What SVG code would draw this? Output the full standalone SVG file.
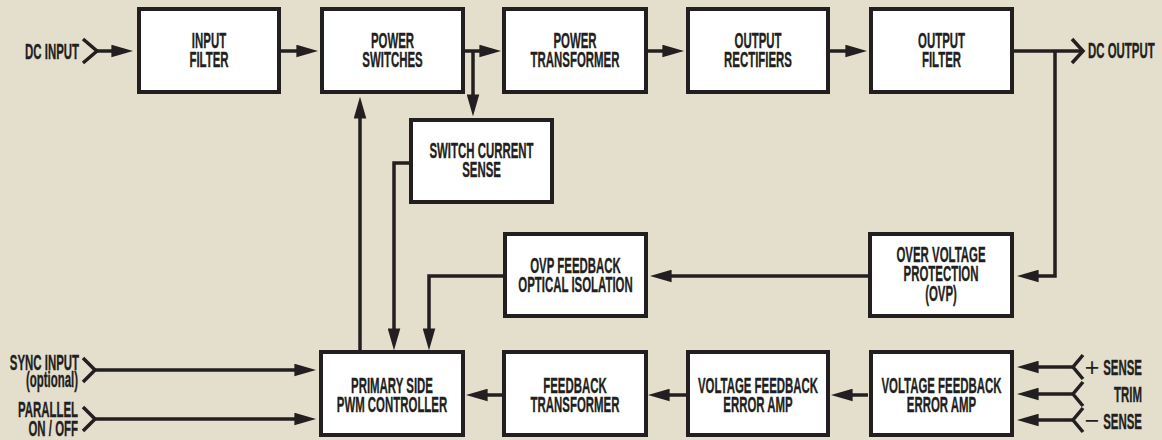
<svg xmlns="http://www.w3.org/2000/svg" width="1162" height="440" viewBox="0 0 1162 440">
<defs>
<style>
.box{fill:#fff;stroke:#231f20;stroke-width:4}
.ln{fill:none;stroke:#231f20;stroke-width:3.5;stroke-linejoin:miter}
.arr{marker-end:url(#ah)}
.t{font-family:"Liberation Sans",Arial,sans-serif;font-weight:bold;font-size:22px;fill:#231f20;stroke:#231f20;stroke-width:0.35;text-anchor:middle}
.e{text-anchor:end}
.pm{font-family:"Liberation Sans",Arial,sans-serif;font-weight:normal;font-size:25px;fill:#231f20;text-anchor:middle}
</style>
<marker id="ah" markerUnits="userSpaceOnUse" markerWidth="22" markerHeight="13" viewBox="0 0 21 12" refX="13" refY="6" orient="auto">
<path d="M0,0 L21,6 L0,12 Z" fill="#231f20"/>
</marker>
</defs>
<rect x="0" y="0" width="1162" height="440" fill="#e4decc"/>

<g id="connectors">
<path class="ln" d="M83,39 L97,51 L83,63"/>
<path class="ln arr" d="M97,51 H125"/>
<path class="ln arr" d="M281,51 H310"/>
<path class="ln arr" d="M465,51 H493"/>
<path class="ln arr" d="M473,51 V108"/>
<path class="ln arr" d="M648,51 H676"/>
<path class="ln arr" d="M830,51 H859"/>
<path class="ln" d="M1014,51 H1083"/>
<path class="ln" d="M1072,39 L1083,51 L1072,63"/>
<path class="ln arr" d="M1055,51 V276 H1025"/>
<path class="ln arr" d="M868,276 H658"/>
<path class="ln arr" d="M503,276 H429 V342"/>
<path class="ln arr" d="M409,163 H394 V342"/>
<path class="ln arr" d="M360,350 V105"/>
<path class="ln" d="M83,358 L95,370 L83,382"/>
<path class="ln arr" d="M95,370 H308"/>
<path class="ln" d="M83,407 L95,419 L83,431"/>
<path class="ln arr" d="M95,419 H308"/>
<path class="ln arr" d="M502,395 H474"/>
<path class="ln arr" d="M686,395 H656"/>
<path class="ln arr" d="M868,395 H839"/>
<path class="ln" d="M1083,355 L1073,367 L1083,379"/>
<path class="ln arr" d="M1073,367 H1025"/>
<path class="ln" d="M1083,382 L1073,394 L1083,406"/>
<path class="ln arr" d="M1073,394 H1025"/>
<path class="ln" d="M1083,408 L1073,420 L1083,432"/>
<path class="ln arr" d="M1073,420 H1025"/>
</g>

<g id="input-filter">
<rect class="box" x="139" y="9" width="140" height="83"/>
<text class="t" transform="translate(209 0) scale(0.52 1)"><tspan x="0" y="48">INPUT</tspan><tspan x="0" y="67">FILTER</tspan></text>
</g>
<g id="power-switches">
<rect class="box" x="322" y="9" width="141" height="83"/>
<text class="t" transform="translate(392.5 0) scale(0.52 1)"><tspan x="0" y="48">POWER</tspan><tspan x="0" y="67">SWITCHES</tspan></text>
</g>
<g id="power-transformer">
<rect class="box" x="504" y="9" width="142" height="83"/>
<text class="t" transform="translate(575 0) scale(0.52 1)"><tspan x="0" y="48">POWER</tspan><tspan x="0" y="67">TRANSFORMER</tspan></text>
</g>
<g id="output-rectifiers">
<rect class="box" x="688" y="9" width="140" height="83"/>
<text class="t" transform="translate(758 0) scale(0.52 1)"><tspan x="0" y="48">OUTPUT</tspan><tspan x="0" y="67">RECTIFIERS</tspan></text>
</g>
<g id="output-filter">
<rect class="box" x="871" y="9" width="141" height="83"/>
<text class="t" transform="translate(941.5 0) scale(0.52 1)"><tspan x="0" y="48">OUTPUT</tspan><tspan x="0" y="67">FILTER</tspan></text>
</g>
<g id="switch-current-sense">
<rect class="box" x="411" y="120" width="141" height="82"/>
<text class="t" transform="translate(481.5 0) scale(0.52 1)"><tspan x="0" y="158.5">SWITCH CURRENT</tspan><tspan x="0" y="177.5">SENSE</tspan></text>
</g>
<g id="ovp-feedback">
<rect class="box" x="505" y="234" width="141" height="82"/>
<text class="t" transform="translate(575.5 0) scale(0.52 1)"><tspan x="0" y="273">OVP FEEDBACK</tspan><tspan x="0" y="292">OPTICAL ISOLATION</tspan></text>
</g>
<g id="ovp">
<rect class="box" x="870" y="234" width="142" height="82"/>
<text class="t" transform="translate(941 0) scale(0.52 1)"><tspan x="0" y="262">OVER VOLTAGE</tspan><tspan x="0" y="281.5">PROTECTION</tspan><tspan x="0" y="301">(OVP)</tspan></text>
</g>
<g id="pwm-controller">
<rect class="box" x="321" y="352" width="142" height="83"/>
<text class="t" transform="translate(392 0) scale(0.52 1)"><tspan x="0" y="393">PRIMARY SIDE</tspan><tspan x="0" y="412">PWM CONTROLLER</tspan></text>
</g>
<g id="feedback-transformer">
<rect class="box" x="504" y="352" width="142" height="83"/>
<text class="t" transform="translate(575 0) scale(0.52 1)"><tspan x="0" y="393">FEEDBACK</tspan><tspan x="0" y="412">TRANSFORMER</tspan></text>
</g>
<g id="vfb-error-amp-1">
<rect class="box" x="688" y="352" width="140" height="83"/>
<text class="t" transform="translate(758 0) scale(0.52 1)"><tspan x="0" y="393">VOLTAGE FEEDBACK</tspan><tspan x="0" y="412">ERROR AMP</tspan></text>
</g>
<g id="vfb-error-amp-2">
<rect class="box" x="871" y="352" width="141" height="83"/>
<text class="t" transform="translate(941.5 0) scale(0.52 1)"><tspan x="0" y="393">VOLTAGE FEEDBACK</tspan><tspan x="0" y="412">ERROR AMP</tspan></text>
</g>

<g id="labels">
<text class="t e" transform="translate(79 0) scale(0.52 1)" x="0" y="59">DC INPUT</text>
<text class="t" transform="translate(1088 0) scale(0.52 1)" style="text-anchor:start" x="0" y="58">DC OUTPUT</text>
<text class="t e" transform="translate(79 0) scale(0.52 1)" x="0" y="370">SYNC INPUT</text>
<text class="t e" transform="translate(78 0) scale(0.52 1)" x="0" y="387">(optional)</text>
<text class="t e" transform="translate(78 0) scale(0.52 1)" x="0" y="417">PARALLEL</text>
<text class="t e" transform="translate(78 0) scale(0.52 1)" x="0" y="436">ON / OFF</text>
<text class="pm" x="1092" y="376">+</text>
<text class="t e" transform="translate(1142 0) scale(0.52 1)" x="0" y="375">SENSE</text>
<text class="t e" transform="translate(1142 0) scale(0.52 1)" x="0" y="402">TRIM</text>
<text class="pm" x="1092" y="429">−</text>
<text class="t e" transform="translate(1142 0) scale(0.52 1)" x="0" y="429">SENSE</text>
</g>
</svg>
